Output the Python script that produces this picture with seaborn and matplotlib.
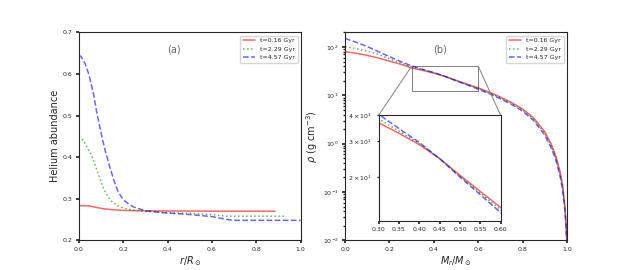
#!/usr/bin/env python3

import numpy as np
import pandas as pd
import seaborn as sns
from matplotlib import pyplot as plt
from mpl_toolkits.axes_grid1.inset_locator import mark_inset


ages = ["t=0.16 Gyr", "t=2.29 Gyr", "t=4.57 Gyr"]
colors = ["#ff0000", "#008000", "#0000ff"]
styles = ["-", ":", "--"]

# panel (a): helium abundance vs fractional radius
r_young = [0.0, 0.04, 0.054, 0.08, 0.11, 0.144, 0.2, 0.234, 0.3, 0.5, 0.7, 0.885]
y_young = [0.283, 0.283, 0.282, 0.279, 0.276, 0.274, 0.272, 0.2715, 0.271, 0.2703, 0.270, 0.270]
r_mid = [0.0, 0.01, 0.028, 0.051, 0.065, 0.084, 0.1, 0.114, 0.13, 0.144, 0.171, 0.204,
         0.25, 0.305, 0.4, 0.5, 0.6, 0.66, 0.8, 0.93]
y_mid = [0.449, 0.447, 0.433, 0.412, 0.395, 0.366, 0.342, 0.321, 0.307, 0.296, 0.284, 0.277,
         0.272, 0.269, 0.267, 0.265, 0.262, 0.258, 0.258, 0.258]
r_old = [0.0, 0.01, 0.028, 0.045, 0.066, 0.081, 0.096, 0.108, 0.121, 0.144, 0.16, 0.174,
         0.19, 0.204, 0.225, 0.248, 0.3, 0.388, 0.5, 0.6, 0.668, 0.7, 0.85, 1.0]
y_old = [0.645, 0.642, 0.626, 0.600, 0.554, 0.508, 0.470, 0.440, 0.412, 0.369, 0.342, 0.321,
         0.306, 0.296, 0.287, 0.280, 0.271, 0.266, 0.262, 0.257, 0.250, 0.248, 0.248, 0.248]

# panel (b): density vs fractional mass
mass = [0.0, 0.05, 0.1, 0.15, 0.2, 0.25, 0.3, 0.35, 0.4, 0.45, 0.5, 0.55, 0.6, 0.65, 0.7,
        0.75, 0.8, 0.85, 0.9, 0.93, 0.95, 0.97, 0.98, 0.99, 0.995, 1.0]
rho_young = [80, 74, 67, 59, 51, 44, 36.8, 32.7, 28.8, 24.6, 20.4, 17.0, 14.2, 11.6, 9.2,
             7.1, 5.2, 3.4, 1.75, 0.95, 0.55, 0.25, 0.14, 0.055, 0.025, 0.008]
rho_mid = [102, 92, 82, 70, 57, 47, 38.5, 33.5, 29.2, 24.6, 20.2, 16.7, 13.8, 11.2, 8.85,
           6.8, 4.95, 3.2, 1.62, 0.87, 0.5, 0.22, 0.125, 0.05, 0.022, 0.008]
rho_old = [150, 125, 102, 80, 63, 50, 40.5, 34.5, 29.5, 24.6, 20.0, 16.4, 13.4, 10.8, 8.5,
           6.5, 4.7, 3.0, 1.5, 0.8, 0.46, 0.2, 0.11, 0.045, 0.02, 0.008]

radii = [r_young, r_mid, r_old]
helium = [y_young, y_mid, y_old]
densities = [rho_young, rho_mid, rho_old]


def draw_lines(ax, xs, ys, label=True):
    for x, y, age, c, ls in zip(xs, ys, ages, colors, styles):
        sns.lineplot(x=x, y=y, ax=ax, color=c, linestyle=ls, alpha=0.6, lw=1.1,
                     label=age if label else None)


def main():
    sns.set_theme(style="ticks", rc={"xtick.labelsize": 4.5, "ytick.labelsize": 4.5,
                                     "axes.labelsize": 7, "axes.linewidth": 0.8,
                                     "axes.labelpad": 2,
                                     "xtick.major.pad": 2, "ytick.major.pad": 2,
                                     "xtick.major.size": 2.5, "ytick.major.size": 2.5,
                                     "xtick.minor.size": 1.5, "ytick.minor.size": 1.5})
    plt.rcParams["font.family"] = ["DejaVu Sans"]
    fig, (ax1, ax2) = plt.subplots(1, 2, figsize=(6.3, 2.7), dpi=100)
    fig.subplots_adjust(left=0.125, right=0.9, bottom=0.11, top=0.88, wspace=0.2)

    draw_lines(ax1, radii, helium)
    ax1.set_xlim(0, 1)
    ax1.set_ylim(0.2, 0.7)
    ax1.set_xlabel(r"$r/R_\odot$")
    ax1.set_ylabel("Helium abundance")
    ax1.text(0.428, 0.917, "(a)", transform=ax1.transAxes, ha="center", va="center",
             fontsize=7, color="0.4")
    ax1.legend(loc="upper right", fontsize=4.5)

    draw_lines(ax2, [mass] * 3, densities)
    ax2.set_yscale("log")
    ax2.set_xlim(0, 1)
    ax2.set_ylim(0.01, 200)
    ax2.set_xlabel(r"$M_r/M_\odot$")
    ax2.set_ylabel(r"$\rho$ (g cm$^{-3}$)")
    ax2.text(0.43, 0.917, "(b)", transform=ax2.transAxes, ha="center", va="center",
             fontsize=7, color="0.4")
    ax2.legend(loc="upper right", fontsize=4.5)

    axins = ax2.inset_axes([0.151, 0.093, 0.55, 0.508])
    draw_lines(axins, [mass] * 3, densities, label=False)
    axins.set_yscale("log")
    axins.set_xlim(0.3, 0.6)
    axins.set_ylim(12.2, 40)
    axins.set_xticks(np.arange(0.3, 0.601, 0.05))
    axins.tick_params(labelsize=4.5)
    mark_inset(ax2, axins, loc1=2, loc2=1, fc="none", ec="0.5", lw=0.7)

    fig.savefig("out.png", dpi=100)


if __name__ == "__main__":
    main()
